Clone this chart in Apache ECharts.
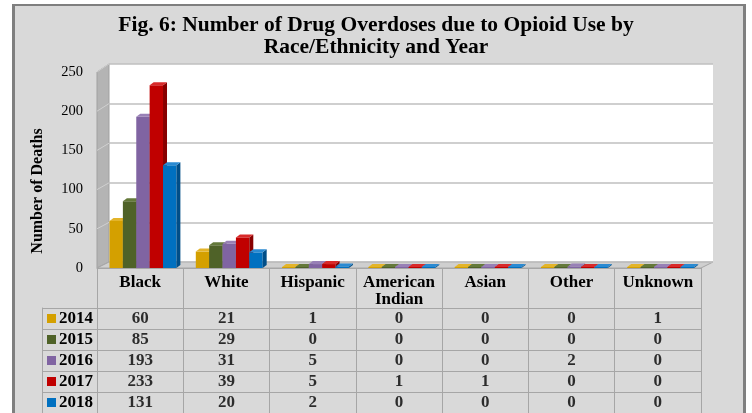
<!DOCTYPE html>
<html>
<head>
<meta charset="utf-8">
<script src="https://cdn.jsdelivr.net/npm/echarts@6/dist/echarts.min.js"></script>
<style>html,body{margin:0;padding:0;background:#fff;}#c{width:752px;height:413px;}</style>
</head>
<body>
<div id="c"></div>
<script>
// ---- data ----
const categories = ['Black', 'White', 'Hispanic', 'American\nIndian', 'Asian', 'Other', 'Unknown'];
const years = ['2014', '2015', '2016', '2017', '2018'];
const v2014 = [60, 21, 1, 0, 0, 0, 1];
const v2015 = [85, 29, 0, 0, 0, 0, 0];
const v2016 = [193, 31, 5, 0, 0, 2, 0];
const v2017 = [233, 39, 5, 1, 1, 0, 0];
const v2018 = [131, 20, 2, 0, 0, 0, 0];
const yTicks = [0, 50, 100, 150, 200, 250];
const yearValues = [v2014, v2015, v2016, v2017, v2018];

// ---- styles ----
const FONT = 'Liberation Serif';
const front = ['#d4a000', '#4f6228', '#8064a2', '#c00000', '#0070c0'];
const side = ['#9c7600', '#37451b', '#5c4879', '#880000', '#004e88'];
const topc = ['#e3b42a', '#64793a', '#9880b6', '#d82a2a', '#2a8ad2'];
const tableLine = '#a6a6a6';

const chart = echarts.init(document.getElementById('c'), null, {renderer: 'canvas'});

// grid geometry (front plane, back wall)
const F = {left: 97, right: 701, top: 72, bottom: 268};
const B = {left: 109, right: 713, top: 64, bottom: 262};
const yMax = yTicks[yTicks.length - 1];

const DX = 4, DY = 3;
function renderBar(sIdx) {
  return function (params, api) {
    const c = api.value(0), v = api.value(1);
    const base = api.coord([c, 0]);
    const top = api.coord([c, v]);
    const catW = api.size([1, 0])[0];
    const bw = catW * 0.155;
    const x0 = base[0] - catW / 2 + catW * 0.145 + sIdx * bw;
    const y0 = base[1];
    let yt = top[1];
    if (y0 - yt < 1) yt = y0 - 1;
    const children = [];
    children.push({type: 'rect', shape: {x: x0, y: yt, width: bw, height: y0 - yt}, style: {fill: front[sIdx]}});
    children.push({type: 'polygon', shape: {points: [[x0 + bw, yt], [x0 + bw + DX, yt - DY], [x0 + bw + DX, y0 - DY], [x0 + bw, y0]]}, style: {fill: side[sIdx]}});
    children.push({type: 'polygon', shape: {points: [[x0, yt], [x0 + DX, yt - DY], [x0 + bw + DX, yt - DY], [x0 + bw, yt]]}, style: {fill: topc[sIdx]}});
    return {type: 'group', children: children};
  };
}

const barSeries = years.map(function (y, i) {
  return {
    type: 'custom', name: y, xAxisIndex: 0, yAxisIndex: 0, z: 5,
    renderItem: renderBar(i),
    encode: {x: 0, y: 1},
    clip: false,
    data: yearValues[i].map(function (v, c) { return [c, v]; })
  };
});

const tableData = [];
yearValues.forEach(function (arr, r) {
  arr.forEach(function (v, c) { tableData.push([c, r, v]); });
});

const rich = {y: {fontFamily: FONT, fontWeight: 'bold', fontSize: 17, color: '#000', padding: [0, 0, 0, 3]}};
front.forEach(function (col, i) { rich['s' + i] = {backgroundColor: col, width: 9, height: 9}; });

// decorations (walls / floor / frame)
const graphics = [
  {type: 'rect', z: 0, shape: {x: 0, y: 0, width: 752, height: 4}, style: {fill: '#fff'}},
  {type: 'rect', z: 0, shape: {x: 0, y: 0, width: 12, height: 413}, style: {fill: '#fff'}},
  {type: 'rect', z: 0, shape: {x: 746, y: 0, width: 6, height: 413}, style: {fill: '#fff'}},
  {type: 'rect', z: 0, shape: {x: 12, y: 4, width: 734, height: 2}, style: {fill: '#7f7f7f'}},
  {type: 'rect', z: 0, shape: {x: 12, y: 4, width: 3, height: 409}, style: {fill: '#7f7f7f'}},
  {type: 'rect', z: 0, shape: {x: 743, y: 4, width: 3, height: 409}, style: {fill: '#7f7f7f'}},
  {type: 'polygon', z: 0, shape: {points: [[F.left, F.top], [B.left, B.top], [B.left, B.bottom], [F.left, F.bottom]]},
    style: {fill: '#b4b4b4', stroke: '#a0a0a0', lineWidth: 1}},
  {type: 'polygon', z: 0, shape: {points: [[F.left, F.bottom], [F.right, F.bottom], [B.right, B.bottom], [B.left, B.bottom]]},
    style: {fill: '#cfcfcf', stroke: '#a6a6a6', lineWidth: 1}},
  {type: 'text', z: 10, x: 38, y: 191, rotation: Math.PI / 2,
    style: {text: 'Number of Deaths', font: 'bold 16px "Liberation Serif"', fill: '#000', textAlign: 'center', textVerticalAlign: 'middle'}}
];
yTicks.forEach(function (t) {
  if (t === 0) return;
  const yf = F.bottom - t * (F.bottom - F.top) / yMax;
  const yb = B.bottom - t * (B.bottom - B.top) / yMax;
  graphics.push({type: 'line', z: 1, shape: {x1: F.left, y1: yf, x2: B.left, y2: yb}, style: {stroke: '#d0d0d0', lineWidth: 1}});
});

const option = {
  backgroundColor: '#d9d9d9',
  animation: false,
  title: {
    text: 'Fig. 6: Number of Drug Overdoses due to Opioid Use by\nRace/Ethnicity and Year',
    left: 'center', top: 9,
    textStyle: {fontFamily: FONT, fontWeight: 'bold', fontSize: 21.5, lineHeight: 22, color: '#000'}
  },
  graphic: graphics,
  grid: [
    {left: F.left, width: F.right - F.left, top: F.top, height: F.bottom - F.top},
    {left: B.left, width: B.right - B.left, top: B.top, height: B.bottom - B.top, show: true, backgroundColor: '#ffffff', borderWidth: 0},
    {left: F.left, width: F.right - F.left, top: 308, height: 105}
  ],
  xAxis: [
    {gridIndex: 0, type: 'category', data: categories,
      axisLine: {show: true, lineStyle: {color: tableLine}},
      axisTick: {show: true, interval: 0, length: 40, lineStyle: {color: tableLine}},
      axisLabel: {interval: 0, margin: 6, fontFamily: FONT, fontWeight: 'bold', fontSize: 17, lineHeight: 17, color: '#000'}},
    {gridIndex: 1, type: 'category', data: categories, show: false},
    {gridIndex: 2, type: 'category', data: categories, position: 'top',
      axisLine: {show: true, lineStyle: {color: tableLine}}, axisTick: {show: false}, axisLabel: {show: false},
      splitLine: {show: true, interval: 0, lineStyle: {color: tableLine}}}
  ],
  yAxis: [
    {gridIndex: 0, type: 'value', min: 0, max: yMax, interval: 50,
      axisLine: {show: false}, axisTick: {show: false}, splitLine: {show: false},
      axisLabel: {margin: 14, fontFamily: FONT, fontSize: 14.5, color: '#000'}},
    {gridIndex: 1, type: 'value', min: 0, max: yMax, interval: 50,
      axisLine: {show: false}, axisTick: {show: false}, axisLabel: {show: false},
      splitLine: {show: true, lineStyle: {color: '#bfbfbf', width: 1.5}}},
    {gridIndex: 2, type: 'category', data: years, inverse: true,
      axisLine: {show: true, lineStyle: {color: tableLine}},
      axisTick: {show: true, interval: 0, length: 55, lineStyle: {color: tableLine}},
      splitLine: {show: true, interval: 0, lineStyle: {color: tableLine}},
      axisLabel: {margin: 4, formatter: function (val, idx) { return '{s' + idx + '|}{y|' + val + '}'; }, rich: rich}},
    {gridIndex: 2, type: 'category', data: years, inverse: true, position: 'left', offset: 55,
      axisLine: {show: true, lineStyle: {color: tableLine}}, axisTick: {show: false}, axisLabel: {show: false}},
    {gridIndex: 2, type: 'category', data: years, inverse: true, position: 'right',
      axisLine: {show: true, lineStyle: {color: tableLine}}, axisTick: {show: false}, axisLabel: {show: false}}
  ],
  series: barSeries.concat([{
    type: 'scatter', xAxisIndex: 2, yAxisIndex: 2, symbolSize: 0, silent: true,
    data: tableData,
    label: {show: true, position: 'inside', formatter: function (p) { return String(p.value[2]); },
      fontFamily: FONT, fontWeight: 'bold', fontSize: 17, color: '#000'}
  }])
};
chart.setOption(option);
</script>
</body>
</html>
